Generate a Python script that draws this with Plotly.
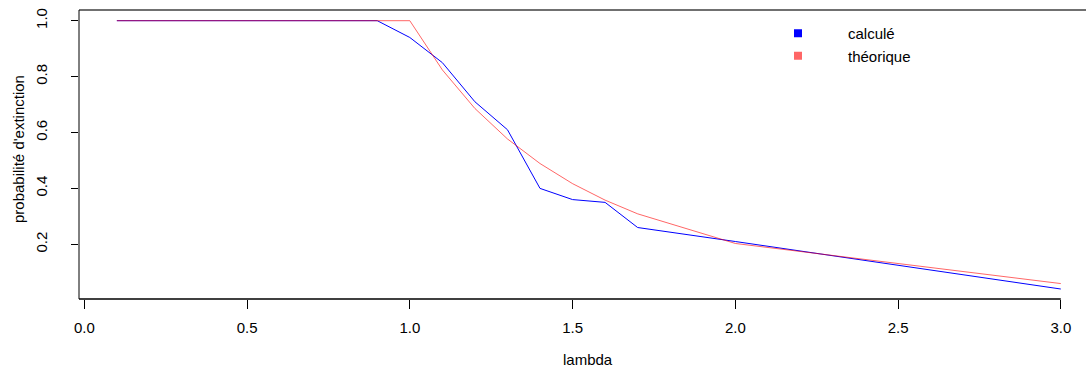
import plotly.graph_objects as go

# ---- data ----
lam = [0.1, 0.2, 0.3, 0.4, 0.5, 0.6, 0.7, 0.8, 0.9, 1.0,
       1.1, 1.2, 1.3, 1.4, 1.5, 1.6, 1.7, 2.0, 3.0]
calcule = [1.0, 1.0, 1.0, 1.0, 1.0, 1.0, 1.0, 1.0, 1.0, 0.94,
           0.85, 0.71, 0.61, 0.40, 0.36, 0.35, 0.26, 0.21, 0.04]
theorique = [1.0, 1.0, 1.0, 1.0, 1.0, 1.0, 1.0, 1.0, 1.0, 1.0,
             0.824, 0.686, 0.577, 0.489, 0.417, 0.358, 0.309, 0.203, 0.0595]
x_ticks = [0.0, 0.5, 1.0, 1.5, 2.0, 2.5, 3.0]
x_tick_labels = ["0.0", "0.5", "1.0", "1.5", "2.0", "2.5", "3.0"]
y_ticks = [0.2, 0.4, 0.6, 0.8, 1.0]
y_tick_labels = ["0.2", "0.4", "0.6", "0.8", "1.0"]
series_names = ["calculé", "théorique"]

BLUE = "#0000FF"
RED = "rgba(255,0,0,0.6)"
RED_SOLID = "#FF6666"
FONT = "Liberation Sans, Arial, Helvetica, sans-serif"

fig = go.Figure()
fig.add_trace(go.Scatter(x=lam, y=calcule, mode="lines",
                         line=dict(color=BLUE, width=1), showlegend=False))
fig.add_trace(go.Scatter(x=lam, y=theorique, mode="lines",
                         line=dict(color=RED, width=1), showlegend=False))
# legend entries (square symbols as in the reference)
for name, col in zip(series_names, [BLUE, RED_SOLID]):
    fig.add_trace(go.Scatter(x=[None], y=[None], mode="markers", name=name,
                             marker=dict(symbol="square", size=8, color=col,
                                         line=dict(width=0))))

W, H = 1086, 369
ml, mr, mt, mb = 79, 0, 10, 70

fig.update_layout(
    width=W, height=H,
    margin=dict(l=ml, r=mr, t=mt, b=mb, pad=0),
    paper_bgcolor="white", plot_bgcolor="white",
    font=dict(family=FONT, size=15, color="black"),
    showlegend=True,
    legend=dict(x=(748 - ml) / (W - ml - mr), y=(H - mb - 17) / (H - mt - mb),
                xanchor="left", yanchor="top", bgcolor="rgba(0,0,0,0)",
                borderwidth=0, itemwidth=90, font=dict(size=15),
                tracegroupgap=0),
    xaxis=dict(range=[-0.01628, 3.0774], tickvals=x_ticks, ticktext=x_tick_labels,
               ticks="outside", ticklen=9, tickwidth=1, tickcolor="black",
               showgrid=False, zeroline=False, showline=False,
               ticklabelstandoff=6, fixedrange=True),
    yaxis=dict(range=[0.00429, 1.0383], tickvals=y_ticks, ticktext=y_tick_labels,
               ticks="outside", ticklen=7, tickwidth=1, tickcolor="black",
               tickangle=-90, showgrid=False, zeroline=False, showline=False,
               ticklabelstandoff=18, fixedrange=True),
    shapes=[
        dict(type="line", xref="paper", yref="paper", x0=0, x1=1, y0=1, y1=1,
             line=dict(color="#707070", width=2)),
        dict(type="line", xref="paper", yref="paper", x0=0, x1=0, y0=0, y1=1,
             line=dict(color="black", width=1)),
        dict(type="line", xref="x", yref="paper", x0=-0.01628, x1=3.0, y0=0, y1=0,
             line=dict(color="black", width=1.3)),
    ],
    annotations=[
        dict(text="lambda", xref="paper", yref="paper",
             x=(588 - ml) / (W - ml - mr), y=0, yshift=-(359.5 - (H - mb)),
             xanchor="center", yanchor="middle", showarrow=False,
             font=dict(size=15)),
        dict(text="probabilité d'extinction", xref="paper", yref="paper",
             x=0, xshift=-(ml - 18), y=(H - mb - 149) / (H - mt - mb),
             xanchor="center", yanchor="middle", textangle=-90, showarrow=False,
             font=dict(size=15)),
    ],
)

fig.write_html("out.html")
